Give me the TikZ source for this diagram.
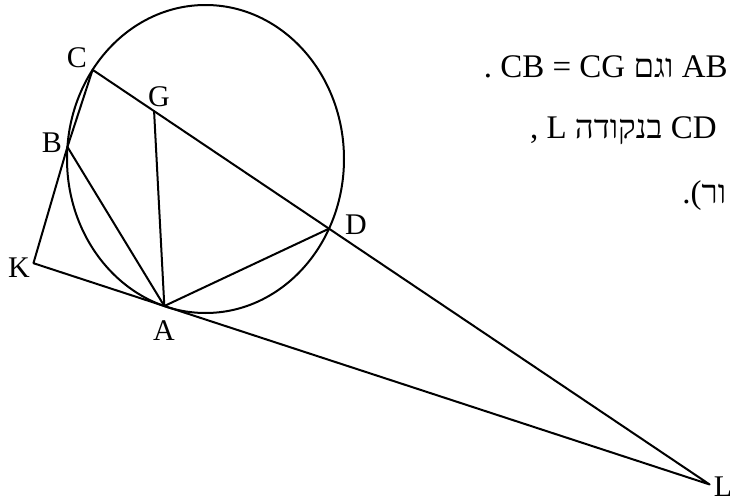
\documentclass[tikz,border=0pt]{standalone}
\usepackage{fontspec}
\setmainfont{Liberation Serif}
\newfontfamily\hebfont[Script=Hebrew]{Liberation Serif}
\TeXXeTstate=1
\usetikzlibrary{calc,positioning}

\begin{document}
\begin{tikzpicture}[x=.5pt,y=-.5pt,font=\fontsize{15}{18}\selectfont]
  \tikzset{
    seg/.style={line width=1pt,line join=round,line cap=round},
    lbl/.style={inner sep=0pt},
    heb/.style={inner sep=0pt,anchor=base east,font=\fontsize{16.5}{19}\selectfont\hebfont}
  }
  \useasboundingbox (0,0) rectangle (730,503);
  \coordinate (O) at (205.5,159);
  \coordinate (A) at ($(O)+(107.3:138.5 and 154)$);
  \coordinate (B) at ($(O)+(184.5:138.5 and 154)$);
  \coordinate (C) at ($(O)+(215.4:138.5 and 154)$);
  \coordinate (D) at ($(O)+(26.9:138.5 and 154)$);
  \coordinate (G) at ($(C)!.26!(D)$);
  \coordinate (L) at ($(C)!2.61!(D)$);
  \coordinate (K) at ($(A)!-.24!(L)$);
  \draw[seg] (O) ellipse [x radius=138.5,y radius=154];
  \draw[seg] (C) -- (B) -- (K) -- (L) -- cycle;
  \draw[seg] (B) -- (A) -- (D);
  \draw[seg] (G) -- (A);
  \node[lbl] (labC) at (77,58) {C};
  \node[lbl] (labG) at (159,97) {G};
  \node[lbl] (labB) at (52,143) {B};
  \node[lbl] (labK) at (19,268) {K};
  \node[lbl] (labA) at (164,331) {A};
  \node[lbl] (labD) at (356,225) {D};
  \node[lbl] (labL) at (723,487) {L};
  \node[heb] (line1) at (728,77) {\beginR AB וגם \beginL CB = CG\endL{} .\endR};
  \node[heb] (line2) at (717,138) {\beginR CD בנקודה L ,\endR};
  \node[heb,anchor=base west] (line3) at (682,203) {\beginR ור).\endR};
\end{tikzpicture}
\end{document}
